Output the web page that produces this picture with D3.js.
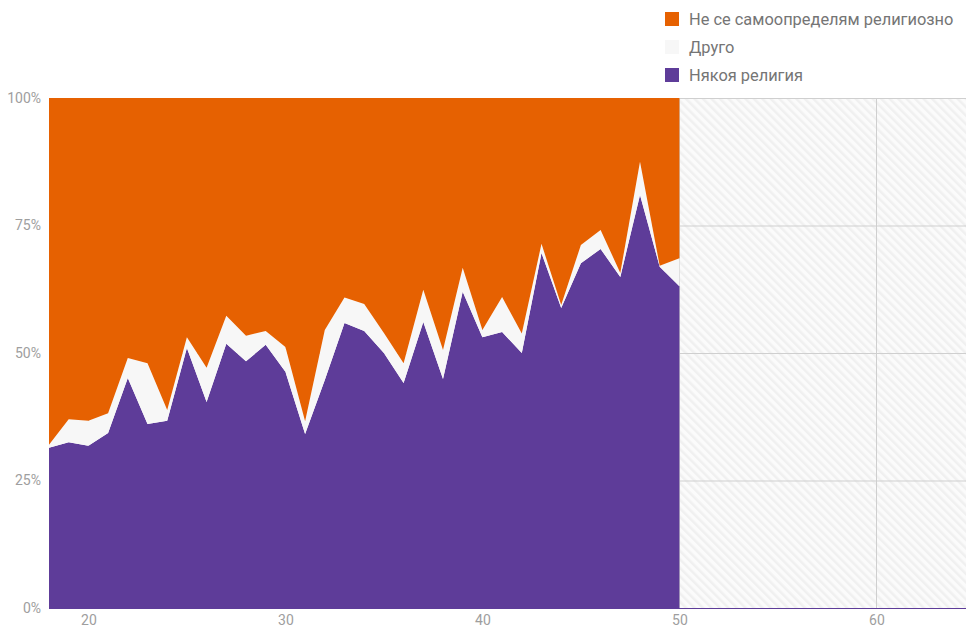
<!DOCTYPE html>
<html>
<head>
<meta charset="utf-8">
<script src="https://cdn.jsdelivr.net/npm/d3@7"></script>
<style>
body{margin:0;background:#fff;}
text{font-family:Roboto,"Noto Sans",sans-serif;}
</style>
</head>
<body>
<svg id="chart"></svg>
<script>
// ages on the x axis
const ages = d3.range(18, 51);
// share of answers per age, in %
const religion = [31.4,32.5,31.8,34.3,45.1,36.1,36.7,51.0,40.4,51.8,48.4,51.6,46.3,34.1,44.7,55.9,54.3,50.0,44.1,56.1,44.9,62.0,53.1,54.1,50.0,69.6,58.8,67.6,70.4,64.9,81.0,66.9,63.1];
const other = [0.6,4.5,4.9,3.9,3.9,11.9,2.1,2.1,6.7,5.5,5.0,2.7,4.9,2.5,9.8,5.0,5.3,3.9,3.9,6.3,5.7,4.7,1.4,6.9,3.8,1.8,0.6,3.6,3.7,0.8,6.5,0.2,5.5];
const none = [68.0,63.0,63.3,61.8,51.0,52.0,61.2,46.9,52.9,42.7,46.6,45.7,48.8,63.4,45.5,39.1,40.4,46.1,52.0,37.6,49.4,33.3,45.5,39.0,46.2,28.6,40.6,28.8,25.9,34.3,12.5,32.9,31.4];
const xTicks = [20,30,40,50,60];
const yTicks = [0,0.25,0.5,0.75,1];

const keys = ["religion","other","none"];
const labels = {none:"Не се самоопределям религиозно", other:"Друго", religion:"Някоя религия"};
const colors = {none:"#e66101", other:"#f7f7f7", religion:"#5e3c99"};

const width = 966, height = 628;
const margin = {top:98, left:49, bottom:20};

const table = ages.map((a,i)=>({age:a, religion:religion[i], other:other[i], none:none[i]}));

const svg = d3.select("#chart").attr("width",width).attr("height",height);

const x = d3.scaleLinear().domain([18,65]).range([margin.left, margin.left + 47*19.7]);
const y = d3.scaleLinear().domain([0,1]).range([height-margin.bottom, margin.top]);

// hatched "no data" background
const defs = svg.append("defs");
const pat = defs.append("pattern")
    .attr("id","hatch").attr("patternUnits","userSpaceOnUse")
    .attr("width",6).attr("height",6)
    .attr("patternTransform","rotate(-45)");
pat.append("rect").attr("width",6).attr("height",6).attr("fill","#fbfbfb");
pat.append("rect").attr("width",2.5).attr("height",6).attr("fill","#f0f0f0");

svg.append("rect")
    .attr("x",x(50)).attr("y",y(1))
    .attr("width",width-x(50)).attr("height",y(0)-y(1))
    .attr("fill","url(#hatch)");

// grid
svg.append("g").selectAll("line").data(yTicks.filter(d=>d>0)).join("line")
    .attr("x1",margin.left).attr("x2",width)
    .attr("y1",d=>y(d)+0.5).attr("y2",d=>y(d)+0.5)
    .attr("stroke","#cfcfcf");
svg.append("g").selectAll("line").data(xTicks).join("line")
    .attr("x1",d=>Math.round(x(d))+0.5).attr("x2",d=>Math.round(x(d))+0.5)
    .attr("y1",y(1)).attr("y2",y(0))
    .attr("stroke","#cfcfcf");

// stacked areas
const series = d3.stack().keys(keys).offset(d3.stackOffsetExpand)(table);
const area = d3.area()
    .x(d=>x(d.data.age))
    .y0(d=>y(d[0]))
    .y1(d=>y(d[1]));
svg.append("g").selectAll("path").data(series).join("path")
    .attr("d",area)
    .attr("fill",d=>colors[d.key]);

// baseline
svg.append("line")
    .attr("x1",margin.left).attr("x2",width)
    .attr("y1",y(0)+0.5).attr("y2",y(0)+0.5)
    .attr("stroke","#5e3c99").attr("stroke-width",1.2);

// axes
const yAxis = d3.axisLeft(y).tickValues(yTicks).tickFormat(d3.format(".0%")).tickSize(0).tickPadding(8);
svg.append("g").attr("transform",`translate(${margin.left},0)`).call(yAxis)
    .call(g=>g.select(".domain").remove())
    .call(g=>g.selectAll("text").attr("fill","#9e9e9e").attr("font-size",14));

const xAxis = d3.axisBottom(x).tickValues(xTicks).tickSize(0).tickPadding(7);
svg.append("g").attr("transform",`translate(0,${y(0)})`).call(xAxis)
    .call(g=>g.select(".domain").remove())
    .call(g=>g.selectAll("text").attr("fill","#9e9e9e").attr("font-size",14));

// legend
const legend = svg.append("g").attr("transform","translate(665,12)");
const legRows = legend.selectAll("g").data(["none","other","religion"]).join("g")
    .attr("transform",(d,i)=>`translate(0,${i*28})`);
legRows.append("rect").attr("width",14).attr("height",14)
    .attr("fill",d=>colors[d]);
legRows.append("text").attr("x",24).attr("y",7).attr("dy","0.35em")
    .attr("font-size",16.4).attr("fill","#757575")
    .text(d=>labels[d]);
</script>
</body>
</html>
